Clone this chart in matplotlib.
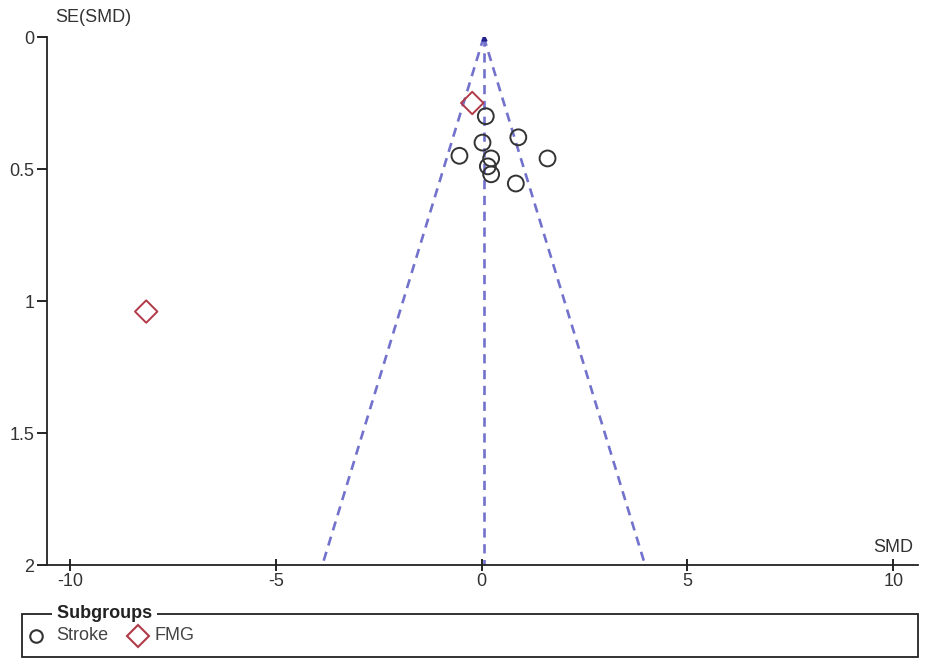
import numpy as np
from matplotlib import pyplot as plt
from matplotlib.lines import Line2D
from matplotlib.patches import Rectangle

plt.rcParams['font.family'] = ['Liberation Sans', 'DejaVu Sans']

# stroke subgroup (SMD, SE)
stroke_smd = [0.10, 0.89, 0.02, -0.54, 0.23, 1.60, 0.15, 0.23, 0.83]
stroke_se = [0.30, 0.38, 0.40, 0.45, 0.46, 0.46, 0.49, 0.52, 0.555]
# FMG subgroup
fmg_smd = [-0.23, -8.15]
fmg_se = [0.25, 1.04]

pooled = 0.05
se_max = 2.0

fig = plt.figure(figsize=(9.35, 6.69), dpi=100)
ax = fig.add_axes([47/935, 1-565/669, (918-47)/935, (565-37)/669])

line_col = '#7272cc'
se_line = np.array([0, se_max])
ax.plot(pooled - 1.96*se_line, se_line, ls=(0, (3.5, 2.5)), color=line_col, lw=1.9)
ax.plot(pooled + 1.96*se_line, se_line, ls=(0, (3.5, 2.5)), color=line_col, lw=1.9)
ax.plot([pooled, pooled], se_line, ls=(0, (3.5, 2.5)), color=line_col, lw=1.9)
ax.plot([pooled], [0.005], marker='^', color='#22228a', ms=3.5)

ax.scatter(stroke_smd, stroke_se, s=130, marker='o', facecolors='none',
           edgecolors='#333333', linewidths=1.4, zorder=3)
ax.scatter(fmg_smd, fmg_se, s=130, marker='D', facecolors='none',
           edgecolors='#b03a48', linewidths=1.4, zorder=3)

ax.set_xlim(-10.56, 10.6)
ax.set_ylim(2, 0)
ax.set_xticks([-10, -5, 0, 5, 10])
ax.set_xticklabels(['-10', '-5', '0', '5', '10'])
ax.set_yticks([0, 0.5, 1, 1.5, 2])
ax.set_yticklabels(['0', '0.5', '1', '1.5', '2'])
ax.tick_params(axis='x', direction='inout', length=9, width=1.2, labelsize=13, pad=1,
               labelcolor='#333333')
ax.tick_params(axis='y', direction='out', length=7, width=1.2, labelsize=13, pad=2,
               labelcolor='#333333')
for s in ['top', 'right']:
    ax.spines[s].set_visible(False)
for s in ['left', 'bottom']:
    ax.spines[s].set_linewidth(1.3)
    ax.spines[s].set_color('#222222')

fig.text(55/935, 1-17/669, 'SE(SMD)', fontsize=13, va='center', ha='left', color='#333333')
fig.text(893/935, 1-548/669, 'SMD', fontsize=13, va='center', ha='center', color='#333333')

# subgroups legend box
fig.patches.append(Rectangle((22/935, 1-657/669), (918-22)/935, (657-614)/669,
                             transform=fig.transFigure, fill=False, ec='#222222', lw=1.3))
fig.text(52/935, 1-613/669, ' Subgroups ', fontsize=13, fontweight='bold', va='center',
         ha='left', color='#222222', bbox=dict(fc='white', ec='none', pad=0))
fig.add_artist(Line2D([36/935], [1-636/669], marker='o', ms=9, mfc='none', mec='#333333',
                      mew=1.5, transform=fig.transFigure))
fig.text(56/935, 1-636/669, 'Stroke', fontsize=13, va='center', ha='left', color='#444444')
fig.add_artist(Line2D([138/935], [1-636/669], marker='D', ms=11, mfc='none', mec='#b03a48',
                      mew=1.5, transform=fig.transFigure))
fig.text(154/935, 1-636/669, 'FMG', fontsize=13, va='center', ha='left', color='#444444')

fig.savefig('out.png', dpi=100)
